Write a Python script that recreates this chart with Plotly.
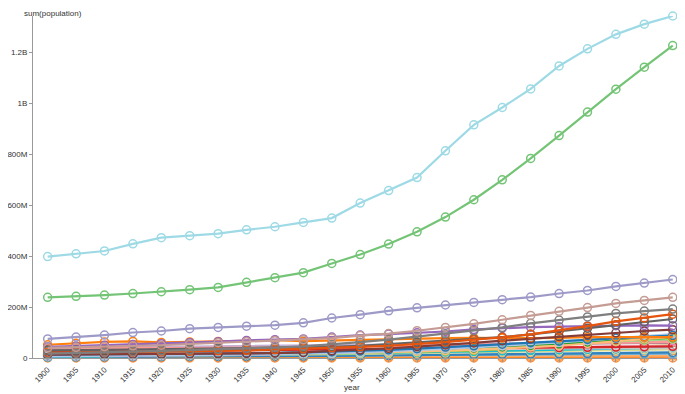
import plotly.graph_objects as go

years = [1900, 1905, 1910, 1915, 1920, 1925, 1930, 1935, 1940, 1945, 1950, 1955,
         1960, 1965, 1970, 1975, 1980, 1985, 1990, 1995, 2000, 2005, 2010]
year_labels = [str(y) for y in years]

# populations in millions
pop_china = [398, 409, 420, 448, 472, 480, 488, 503, 515, 532, 549, 608, 657, 708, 813, 915, 983, 1056, 1146, 1213, 1270, 1310, 1342]
pop_india = [238, 242, 247, 253, 260, 268, 277, 297, 315, 335, 371, 406, 447, 495, 553, 621, 699, 783, 873, 965, 1055, 1141, 1226]
pop_usa = [75, 82, 90, 100, 106, 115, 120, 125, 129, 138, 157, 170, 185, 197, 208, 218, 229, 239, 253, 265, 281, 294, 308]
pop_indonesia = [40, 42, 45, 48, 50, 55, 60, 64, 68, 72, 78, 88, 96, 107, 120, 134, 150, 167, 183, 198, 214, 226, 238]
pop_brazil = [17, 19, 22, 25, 28, 31, 34, 38, 41, 46, 53, 62, 72, 84, 95, 107, 120, 136, 149, 161, 175, 184, 192]
pop_pakistan = [20, 21, 22, 23, 24, 26, 28, 30, 33, 36, 40, 44, 48, 55, 62, 72, 81, 93, 108, 125, 144, 157, 172]
pop_bangladesh = [29, 30, 31, 32, 33, 35, 37, 39, 41, 42, 44, 48, 55, 62, 67, 74, 82, 93, 105, 117, 130, 142, 153]
pop_japan = [44, 47, 50, 53, 56, 60, 64, 69, 72, 75, 82, 90, 94, 99, 104, 112, 117, 121, 123, 125, 127, 128, 127]
pop_mexico = [13.6, 14, 15, 15, 14.5, 15.5, 16.5, 18, 19.5, 22, 28, 32, 38, 45, 51, 59, 68, 76, 84, 92, 99, 106, 111]
pop_germany = [52, 58, 63, 65, 61, 63, 65, 67, 70, 66, 69, 71, 73, 76, 78, 79, 78, 78, 79, 82, 82, 82, 82]
pop_vietnam = [13, 13.5, 14, 15, 16, 17, 18, 19, 20, 22, 25, 28, 32, 37, 43, 48, 54, 60, 66, 73, 78, 83, 88]
pop_philippines = [7.6, 8, 8.5, 9, 10, 11, 12.5, 14, 16, 17, 18.5, 22, 27, 31, 36, 42, 48, 54, 61, 69, 78, 86, 94]
pop_ethiopia = [11, 11.5, 12, 12.5, 13, 14, 15, 16, 17, 18, 19, 21, 23, 26, 29, 33, 37, 43, 48, 57, 66, 75, 83]
pop_egypt = [10, 10.5, 11, 12, 13, 14, 15, 16, 17, 18, 21, 23, 26, 30, 34, 38, 43, 49, 56, 62, 68, 74, 80]
pop_iran = [10, 10.5, 11, 11.5, 12, 12.5, 13, 14, 14.5, 15.5, 17, 19, 22, 25, 29, 33, 39, 47, 56, 61, 66, 70, 74]
pop_turkey = [13, 13.5, 14, 14, 13, 13.5, 14.5, 16, 17.5, 19, 21, 24, 27, 31, 35, 40, 44, 50, 56, 61, 64, 68, 73]
pop_spain = [23, 24, 25, 26, 27, 28, 30, 31, 31, 32, 33, 34, 36, 37, 38, 39, 40, 41, 41, 42, 43, 44, 46]
pop_france = [40.6, 41, 41.2, 40, 39, 40.5, 41, 41.2, 41, 40, 42, 43.5, 46, 48.8, 51, 52.7, 54, 55.3, 56.7, 58, 59, 61, 63]
pop_uk = [38, 40, 42, 43, 44, 45, 46, 47, 48, 49, 50, 51, 52.4, 54, 55.6, 56, 56.3, 56.6, 57.2, 58, 59, 60.5, 62.3]
pop_italy = [33, 34, 35, 36, 37, 38, 41, 42, 44, 45, 47, 48, 50, 52, 54, 55.4, 56.4, 56.6, 56.7, 57, 57, 58.6, 60]
pop_thailand = [7, 7.5, 8, 8.7, 9.5, 10.8, 12, 13.5, 15, 16.5, 20, 23, 27, 31.5, 36.9, 42, 47, 51, 56, 59, 62, 65, 67]
pop_korea = [9, 9.5, 10, 10.5, 11, 12, 13, 14, 15, 16, 19, 21.5, 25, 28.7, 32, 35, 38, 40.8, 42.9, 45, 47, 48, 49]
pop_poland = [25, 26, 27, 27, 26, 28, 30, 31, 32, 24, 25, 27, 30, 32, 33, 34, 35, 37, 38, 38.6, 38.3, 38.2, 38.2]
pop_myanmar = [10, 10.5, 11, 11.5, 12, 13, 14, 15, 16, 17, 18, 20, 22, 25, 27, 30, 34, 37, 40, 43, 46, 48, 50]
pop_argentina = [4.7, 5.5, 6.5, 8, 8.9, 10, 11.5, 12.7, 14, 15.4, 17, 19, 20.6, 22.3, 24, 26, 28, 30, 32.6, 34.8, 37, 39, 40.4]
pop_canada = [5.3, 6, 7, 8, 8.5, 9.3, 10.2, 10.8, 11.6, 12, 14, 16, 17.9, 19.7, 21.3, 23, 24.5, 25.8, 27.8, 29.4, 30.7, 32.3, 34]
pop_australia = [3.8, 4, 4.4, 4.9, 5.4, 6, 6.5, 6.8, 7, 7.4, 8.2, 9.3, 10.3, 11.4, 12.7, 13.9, 14.7, 15.8, 17, 18, 19, 20.3, 22]
pop_netherlands = [5.1, 5.5, 5.9, 6.4, 6.8, 7.4, 7.9, 8.4, 8.9, 9.3, 10, 10.8, 11.5, 12.3, 13, 13.7, 14.1, 14.5, 15, 15.5, 15.9, 16.3, 16.6]
pop_sweden = [5.1, 5.3, 5.5, 5.7, 5.9, 6, 6.1, 6.2, 6.4, 6.6, 7, 7.3, 7.5, 7.7, 8, 8.2, 8.3, 8.35, 8.6, 8.8, 8.9, 9, 9.4]
pop_switzerland = [3.3, 3.5, 3.7, 3.8, 3.9, 4, 4.1, 4.2, 4.3, 4.5, 4.7, 5, 5.4, 5.9, 6.2, 6.3, 6.3, 6.5, 6.7, 7, 7.2, 7.4, 7.8]
pop_iceland = [0.08, 0.08, 0.09, 0.09, 0.09, 0.1, 0.11, 0.12, 0.12, 0.13, 0.14, 0.16, 0.18, 0.19, 0.2, 0.22, 0.23, 0.24, 0.25, 0.27, 0.28, 0.3, 0.32]

series = [
    ("Iceland", pop_iceland, "#fd8d3c"),
    ("Switzerland", pop_switzerland, "#ff7f0e"),
    ("Sweden", pop_sweden, "#fdae6b"),
    ("Netherlands", pop_netherlands, "#6baed6"),
    ("Australia", pop_australia, "#3182bd"),
    ("Canada", pop_canada, "#dbdb8d"),
    ("Argentina", pop_argentina, "#17becf"),
    ("Myanmar", pop_myanmar, "#bcbd22"),
    ("Poland", pop_poland, "#c7c7c7"),
    ("South Korea", pop_korea, "#f7b6d2"),
    ("Thailand", pop_thailand, "#e377c2"),
    ("Italy", pop_italy, "#8c564b"),
    ("United Kingdom", pop_uk, "#c5b0d5"),
    ("France", pop_france, "#ff9896"),
    ("Spain", pop_spain, "#d62728"),
    ("Turkey", pop_turkey, "#e7969c"),
    ("Iran", pop_iran, "#98df8a"),
    ("Egypt", pop_egypt, "#2ca02c"),
    ("Ethiopia", pop_ethiopia, "#ffbb78"),
    ("Philippines", pop_philippines, "#aec7e8"),
    ("Vietnam", pop_vietnam, "#1f77b4"),
    ("Germany", pop_germany, "#ff7f0e"),
    ("Mexico", pop_mexico, "#843c39"),
    ("Japan", pop_japan, "#9467bd"),
    ("Bangladesh", pop_bangladesh, "#636363"),
    ("Pakistan", pop_pakistan, "#e6550d"),
    ("Brazil", pop_brazil, "#7f7f7f"),
    ("Indonesia", pop_indonesia, "#c49c94"),
    ("United States", pop_usa, "#9e9ac8"),
    ("India", pop_india, "#74c476"),
    ("China", pop_china, "#9edae5"),
]

y_tickvals = [0, 200e6, 400e6, 600e6, 800e6, 1000e6, 1200e6]
y_ticktext = ["0", "200M", "400M", "600M", "800M", "1B", "1.2B"]

fig = go.Figure()
for name, vals, color in series:
    fig.add_trace(go.Scatter(
        x=years, y=[v * 1e6 for v in vals], name=name, mode="lines+markers",
        line=dict(color=color, width=2.2),
        marker=dict(symbol="circle-open", size=8, color=color, line=dict(width=1.5, color=color)),
        cliponaxis=False, showlegend=False,
    ))

font = "Liberation Sans, Arial, sans-serif"
# the page body has an 8px default margin; the figure is sized so it ends at the window edge
fig.update_layout(
    width=677, height=386,
    margin=dict(l=25, r=0, t=8, b=36, autoexpand=False),
    paper_bgcolor="white", plot_bgcolor="white",
    font=dict(family=font, size=8, color="#333"),
    xaxis=dict(range=[1897.42, 2012.16], tickvals=years, ticktext=year_labels,
               tickangle=-45, showgrid=False, zeroline=False, showline=True,
               linecolor="#999", linewidth=1, ticks="outside", ticklen=3,
               tickcolor="#999", tickfont=dict(size=8, color="#333"),
               automargin=False),
    yaxis=dict(range=[0, 1342e6], tickvals=y_tickvals, ticktext=y_ticktext,
               showgrid=False, zeroline=False, showline=True, linecolor="#999",
               linewidth=1, ticks="outside", ticklen=3, tickcolor="#999",
               tickfont=dict(size=8, color="#333"), automargin=False),
    annotations=[
        dict(text="sum(population)", xref="paper", yref="paper", x=-10 / 652,
             y=1 + 8 / 342, xanchor="left", yanchor="top", showarrow=False,
             borderpad=0, font=dict(size=8, color="#333")),
        dict(text="year", xref="paper", yref="paper", x=(352 - 33) / 652,
             y=-29 / 342, xanchor="center", yanchor="middle", showarrow=False,
             borderpad=0, font=dict(size=8, color="#333")),
    ],
)
fig.write_html("out.html")
